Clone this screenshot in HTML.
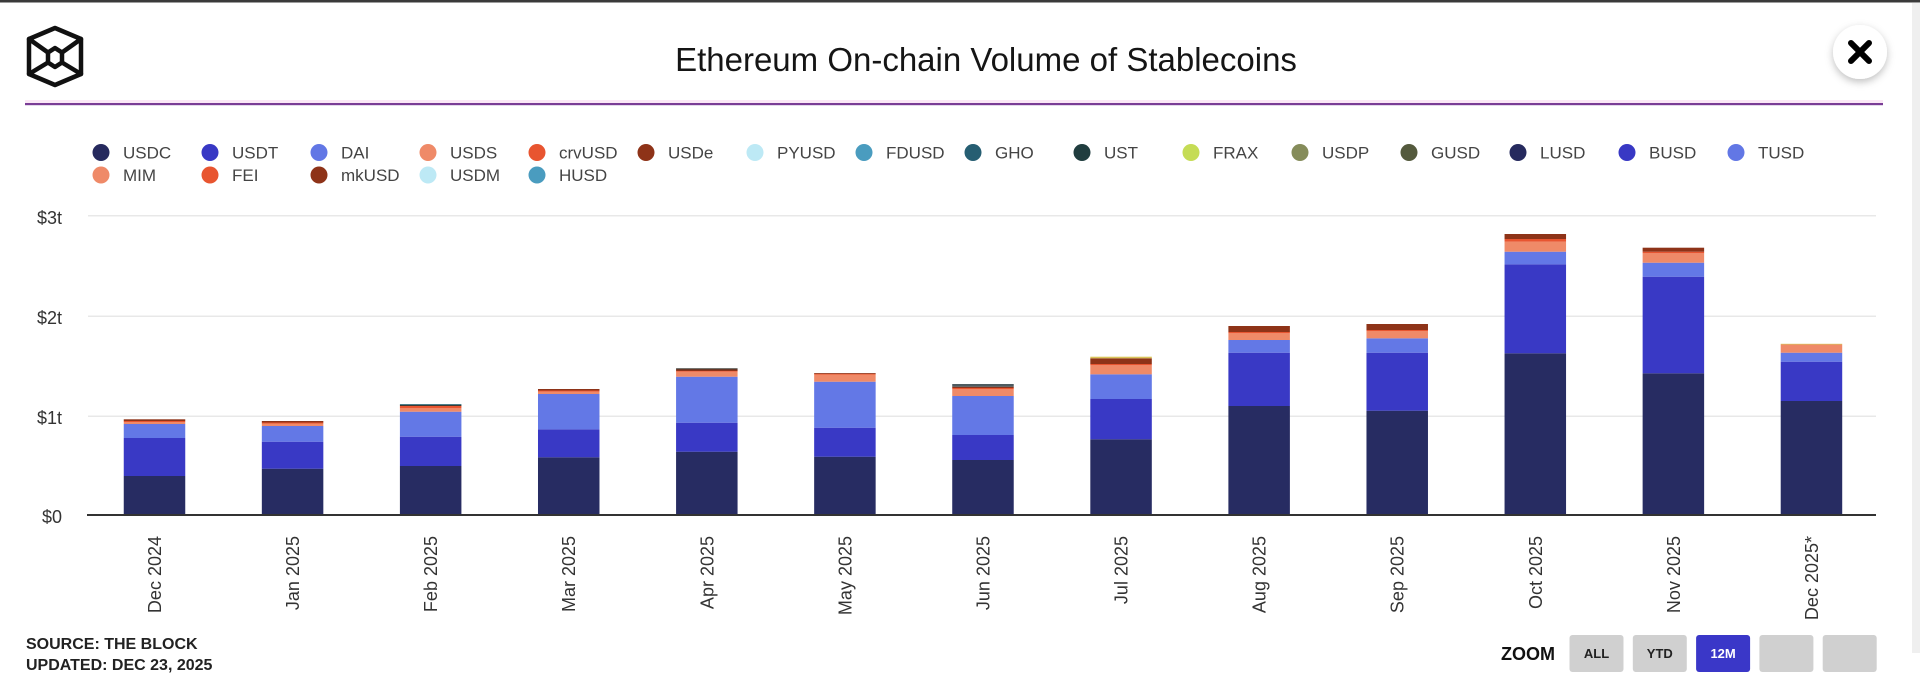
<!DOCTYPE html>
<html>
<head>
<meta charset="utf-8">
<style>
html,body{margin:0;padding:0;background:#fff;}
body{width:1920px;height:691px;overflow:hidden;position:relative;}
svg{position:absolute;left:0;top:0;}
text{font-family:"Liberation Sans",Arial,sans-serif;}
</style>
</head>
<body>
<svg width="1920" height="691" viewBox="0 0 1920 691" xmlns="http://www.w3.org/2000/svg">
<defs>
<filter id="sh" x="-50%" y="-50%" width="200%" height="200%">
<feDropShadow dx="0" dy="3" stdDeviation="4" flood-color="#000" flood-opacity="0.25"/>
</filter>
</defs>
<rect x="0" y="0" width="1920" height="691" fill="#fff"/>
<rect x="0" y="0" width="1920" height="2.5" fill="#3a3a3a"/>
<rect x="1912" y="3" width="8" height="650" fill="#efefef"/>

<!-- logo -->
<g fill="none" stroke="#111" stroke-width="4.5" stroke-linejoin="round" stroke-linecap="round">
<polygon points="55,28 81,39 81,74 55,85 29,74 29,39"/>
<polygon points="55,48 62,52.5 62,62.5 55,67 48,62.5 48,52.5"/>
<line x1="29" y1="39" x2="48" y2="52.5"/>
<line x1="81" y1="39" x2="62" y2="52.5"/>
<line x1="29" y1="74" x2="48" y2="62.5"/>
<line x1="81" y1="74" x2="62" y2="62.5"/>
</g>

<!-- title -->
<text x="986" y="71" font-size="33" fill="#151515" text-anchor="middle">Ethereum On-chain Volume of Stablecoins</text>

<!-- close -->
<circle cx="1860" cy="52" r="27" fill="#fff" filter="url(#sh)"/>
<g stroke="#000" stroke-width="6" stroke-linecap="round">
<line x1="1851" y1="43" x2="1869" y2="61"/>
<line x1="1869" y1="43" x2="1851" y2="61"/>
</g>

<!-- divider -->
<rect x="25" y="100" width="1858" height="3" fill="#fbe8f6"/>
<rect x="25" y="103" width="1858" height="2.2" fill="#7a3d96"/>

<!-- legend -->
<g font-size="17" fill="#444">
<circle cx="101" cy="152.5" r="8.5" fill="#262a5e"/><text x="123" y="158.5">USDC</text>
<circle cx="210" cy="152.5" r="8.5" fill="#3838c4"/><text x="232" y="158.5">USDT</text>
<circle cx="319" cy="152.5" r="8.5" fill="#6277e5"/><text x="341" y="158.5">DAI</text>
<circle cx="428" cy="152.5" r="8.5" fill="#ef8a68"/><text x="450" y="158.5">USDS</text>
<circle cx="537" cy="152.5" r="8.5" fill="#e85530"/><text x="559" y="158.5">crvUSD</text>
<circle cx="646" cy="152.5" r="8.5" fill="#8e3318"/><text x="668" y="158.5">USDe</text>
<circle cx="755" cy="152.5" r="8.5" fill="#bde9f5"/><text x="777" y="158.5">PYUSD</text>
<circle cx="864" cy="152.5" r="8.5" fill="#4a9cbf"/><text x="886" y="158.5">FDUSD</text>
<circle cx="973" cy="152.5" r="8.5" fill="#265e72"/><text x="995" y="158.5">GHO</text>
<circle cx="1082" cy="152.5" r="8.5" fill="#203d3f"/><text x="1104" y="158.5">UST</text>
<circle cx="1191" cy="152.5" r="8.5" fill="#c5dc55"/><text x="1213" y="158.5">FRAX</text>
<circle cx="1300" cy="152.5" r="8.5" fill="#858c5a"/><text x="1322" y="158.5">USDP</text>
<circle cx="1409" cy="152.5" r="8.5" fill="#545a3d"/><text x="1431" y="158.5">GUSD</text>
<circle cx="1518" cy="152.5" r="8.5" fill="#262a5e"/><text x="1540" y="158.5">LUSD</text>
<circle cx="1627" cy="152.5" r="8.5" fill="#3838c4"/><text x="1649" y="158.5">BUSD</text>
<circle cx="1736" cy="152.5" r="8.5" fill="#6277e5"/><text x="1758" y="158.5">TUSD</text>
<circle cx="101" cy="175" r="8.5" fill="#ef8a68"/><text x="123" y="181">MIM</text>
<circle cx="210" cy="175" r="8.5" fill="#e85530"/><text x="232" y="181">FEI</text>
<circle cx="319" cy="175" r="8.5" fill="#8e3318"/><text x="341" y="181">mkUSD</text>
<circle cx="428" cy="175" r="8.5" fill="#bde9f5"/><text x="450" y="181">USDM</text>
<circle cx="537" cy="175" r="8.5" fill="#4a9cbf"/><text x="559" y="181">HUSD</text>
</g>

<!-- grid -->
<g fill="#e8e8e8">
<rect x="88" y="215" width="1788" height="1.5"/>
<rect x="88" y="315.5" width="1788" height="1.5"/>
<rect x="88" y="415.5" width="1788" height="1.5"/>
</g>
<g font-size="18" fill="#333" text-anchor="end">
<text x="62" y="224">$3t</text>
<text x="62" y="324">$2t</text>
<text x="62" y="424">$1t</text>
<text x="62" y="523">$0</text>
</g>

<!-- bars -->
<g id="bars"></g>

<rect x="87" y="514" width="1789" height="2" fill="#333"/>

<!-- x labels -->
<g font-size="18" fill="#333" text-anchor="end">
<text transform="translate(161,536) rotate(-90)">Dec 2024</text>
<text transform="translate(299.1,536) rotate(-90)">Jan 2025</text>
<text transform="translate(437.2,536) rotate(-90)">Feb 2025</text>
<text transform="translate(575.2,536) rotate(-90)">Mar 2025</text>
<text transform="translate(713.3,536) rotate(-90)">Apr 2025</text>
<text transform="translate(851.4,536) rotate(-90)">May 2025</text>
<text transform="translate(989.5,536) rotate(-90)">Jun 2025</text>
<text transform="translate(1127.6,536) rotate(-90)">Jul 2025</text>
<text transform="translate(1265.6,536) rotate(-90)">Aug 2025</text>
<text transform="translate(1403.7,536) rotate(-90)">Sep 2025</text>
<text transform="translate(1541.8,536) rotate(-90)">Oct 2025</text>
<text transform="translate(1679.9,536) rotate(-90)">Nov 2025</text>
<text transform="translate(1818,536) rotate(-90)">Dec 2025*</text>
</g>

<!-- footer -->
<g font-size="16" font-weight="bold" fill="#222">
<text x="26" y="649">SOURCE: THE BLOCK</text>
<text x="26" y="670">UPDATED: DEC 23, 2025</text>
</g>

<text x="1501" y="660" font-size="18" font-weight="bold" fill="#111">ZOOM</text>
<g>
<rect x="1569.5" y="635" width="54" height="37" rx="3" fill="#d0d0d0"/>
<rect x="1632.8" y="635" width="54" height="37" rx="3" fill="#d0d0d0"/>
<rect x="1696.1" y="635" width="54" height="37" rx="3" fill="#3a37c8"/>
<rect x="1759.4" y="635" width="54" height="37" rx="3" fill="#d0d0d0"/>
<rect x="1822.7" y="635" width="54" height="37" rx="3" fill="#d0d0d0"/>
</g>
<g font-size="13" font-weight="bold" text-anchor="middle">
<text x="1596.5" y="658" fill="#222">ALL</text>
<text x="1659.8" y="658" fill="#222">YTD</text>
<text x="1723.1" y="658" fill="#fff">12M</text>
</g>
</svg>

<script>
(function(){
var C={usdc:"#272c62",usdt:"#3939c5",dai:"#6378e6",usds:"#ef8a68",crv:"#e85530",usde:"#8e3318",ust:"#3d3a33",gho:"#4d5b60",frax:"#d9c45a",teal:"#4a7f8c"};
var data=[
 [["usdc",.39],["usdt",.77],["dai",.91],["usds",.93],["crv",.94],["usde",.957]],
 [["usdc",.463],["usdt",.733],["dai",.89],["usds",.915],["crv",.925],["usde",.94]],
 [["usdc",.49],["usdt",.783],["dai",1.033],["usds",1.067],["crv",1.09],["ust",1.10],["teal",1.11]],
 [["usdc",.577],["usdt",.857],["dai",1.21],["usds",1.233],["crv",1.245],["usde",1.26]],
 [["usdc",.633],["usdt",.923],["dai",1.383],["usds",1.433],["crv",1.44],["usde",1.455],["ust",1.467]],
 [["usdc",.583],["usdt",.873],["dai",1.333],["usds",1.405],["crv",1.412],["usde",1.42]],
 [["usdc",.55],["usdt",.80],["dai",1.19],["usds",1.257],["crv",1.27],["usde",1.283],["gho",1.31]],
 [["usdc",.757],["usdt",1.16],["dai",1.407],["usds",1.497],["crv",1.51],["usde",1.567],["frax",1.583]],
 [["usdc",1.09],["usdt",1.623],["dai",1.75],["usds",1.817],["crv",1.83],["usde",1.89]],
 [["usdc",1.043],["usdt",1.623],["dai",1.767],["usds",1.84],["crv",1.85],["usde",1.91]],
 [["usdc",1.617],["usdt",2.507],["dai",2.633],["usds",2.733],["crv",2.76],["usde",2.81]],
 [["usdc",1.417],["usdt",2.383],["dai",2.523],["usds",2.617],["crv",2.633],["usde",2.673]],
 [["usdc",1.14],["usdt",1.533],["dai",1.623],["usds",1.705],["frax",1.712]]
];
var g=document.getElementById("bars"),ns="http://www.w3.org/2000/svg";
for(var i=0;i<data.length;i++){
 var cx=154.5+138.08*i,x=cx-30.75,prev=0;
 for(var j=0;j<data[i].length;j++){
  var s=data[i][j],yt=515-s[1]*100,yb=515-prev*100;
  var r=document.createElementNS(ns,"rect");
  r.setAttribute("x",x.toFixed(2));r.setAttribute("width","61.5");
  r.setAttribute("y",yt.toFixed(2));r.setAttribute("height",(yb-yt).toFixed(2));
  r.setAttribute("fill",C[s[0]]);g.appendChild(r);prev=s[1];
 }
}
})();
</script>
</body>
</html>
